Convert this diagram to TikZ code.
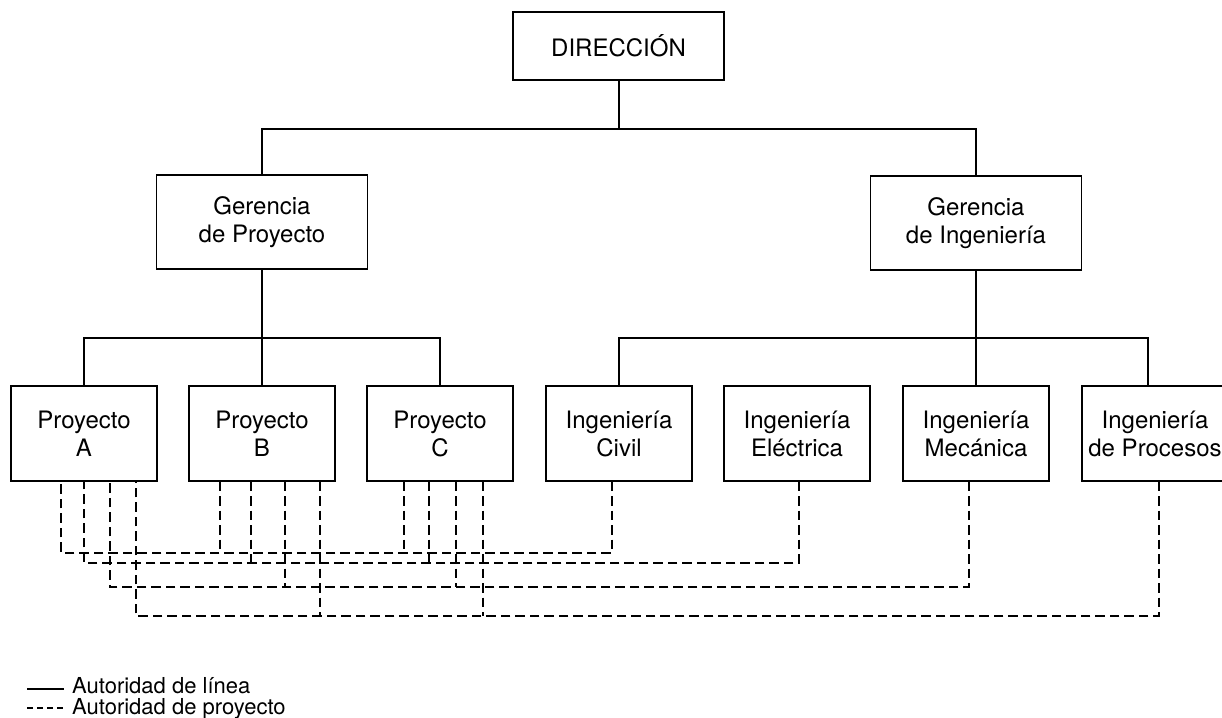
\documentclass[tikz,border=0pt]{standalone}
\usepackage{fontspec}
\setmainfont{TeX Gyre Heros}
\begin{document}
\begin{tikzpicture}[x=1pt,y=-1pt,
  box/.style={draw,line width=1.4pt,inner sep=0pt,align=center,
    font=\fontsize{24}{28}\selectfont},
  lbox/.style={box,minimum width=146pt,minimum height=95pt},
  gbox/.style={box,minimum width=211pt,minimum height=94pt},
  line/.style={line width=2pt},
  pdash/.style={line width=1.9pt,dash pattern=on 9.5pt off 5pt},
  legtext/.style={anchor=base west,inner sep=0pt,font=\fontsize{22}{26}\selectfont}]
\useasboundingbox (0,0) rectangle (1222,717);
% boxes
\node[box,minimum width=211pt,minimum height=68pt] (dir) at (618.5,46) {DIRECCIÓN};
\node[gbox] (gp) at (262,222) {Gerencia\\de Proyecto};
\node[gbox] (gi) at (976,223) {Gerencia\\de Ingeniería};
\node[lbox] (pa) at (84,433.5) {Proyecto\\A};
\node[lbox] (pb) at (262,433.5) {Proyecto\\B};
\node[lbox] (pc) at (440,433.5) {Proyecto\\C};
\node[lbox] (ic) at (619,433.5) {Ingeniería\\Civil};
\node[lbox] (ie) at (797,433.5) {Ingeniería\\Eléctrica};
\node[lbox] (im) at (976,433.5) {Ingeniería\\Mecánica};
\node[lbox] (ip) at (1155,433.5) {Ingeniería\\de Procesos};
% line authority
\coordinate (j1) at (618.5,129);
\coordinate (j2) at (262,338);
\coordinate (j3) at (976,338);
\coordinate (ipt) at (1148,386);
\draw[line] (dir.south) -- (j1);
\draw[line] (gp.north) |- (j1) -| (gi.north);
\draw[line] (gp.south) -- (pb.north);
\draw[line] (pa.north) |- (j2) -| (pc.north);
\draw[line] (gi.south) -- (im.north);
\draw[line] (ic.north) |- (j3) -| (ipt);
% project authority
\foreach \n/\x in {a1/61,a2/84,a3/110,a4/136,b1/220,b2/251,b3/285,b4/320,
  c1/404,c2/429,c3/456,c4/483,d1/612,d2/799,d3/969,d4/1159}
  \coordinate (x\n) at (\x,0);
\coordinate (L1) at (0,553);
\coordinate (L2) at (0,563);
\coordinate (L3) at (0,587);
\coordinate (L4) at (0,616);
\draw[pdash] (ic.south -| xd1) -- (xd1 |- L1) -- (xa1 |- L1) -- (pa.south -| xa1);
\draw[pdash] (pb.south -| xb1) -- (xb1 |- L1);
\draw[pdash] (pc.south -| xc1) -- (xc1 |- L1);
\draw[pdash] (ie.south -| xd2) -- (xd2 |- L2) -- (xa2 |- L2) -- (pa.south -| xa2);
\draw[pdash] (pb.south -| xb2) -- (xb2 |- L2);
\draw[pdash] (pc.south -| xc2) -- (xc2 |- L2);
\draw[pdash] (im.south -| xd3) -- (xd3 |- L3) -- (xa3 |- L3) -- (pa.south -| xa3);
\draw[pdash] (pb.south -| xb3) -- (xb3 |- L3);
\draw[pdash] (pc.south -| xc3) -- (xc3 |- L3);
\draw[pdash] (ip.south -| xd4) -- (xd4 |- L4) -- (xa4 |- L4) -- (pa.south -| xa4);
\draw[pdash] (pb.south -| xb4) -- (xb4 |- L4);
\draw[pdash] (pc.south -| xc4) -- (xc4 |- L4);
% legend
\node[legtext] (t1) at (72,693) {Autoridad de línea};
\node[legtext] (t2) at (72,714) {Autoridad de proyecto};
\coordinate (s1) at (27,689);
\coordinate (s2) at (27,708);
\draw[line] (s1) -- (s1 -| 64,0);
\draw[line width=1.6pt,dash pattern=on 6pt off 4pt] (s2) -- (s2 -| 64,0);
\end{tikzpicture}
\end{document}
